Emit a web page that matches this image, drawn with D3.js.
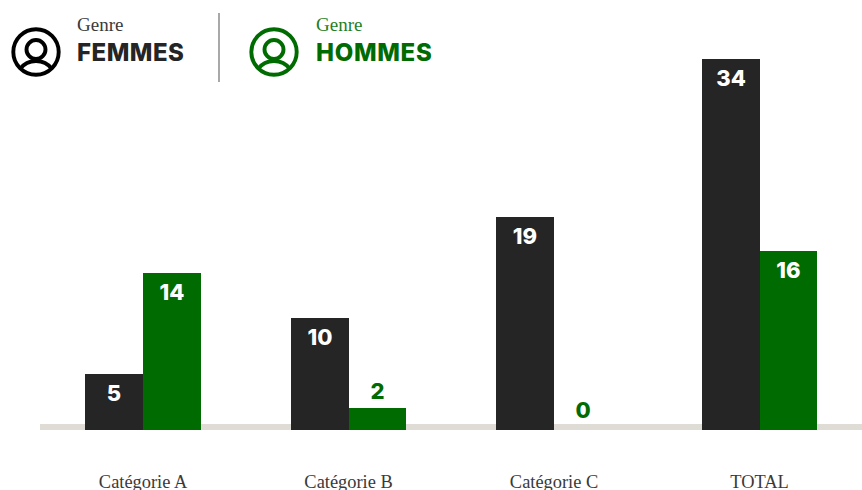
<!DOCTYPE html>
<html><head><meta charset="utf-8">
<script src="https://cdn.jsdelivr.net/npm/d3@7"></script>
<style>html,body{margin:0;padding:0;background:#fff;overflow:hidden}svg{display:block}</style>
</head><body><div id="c"></div>
<script>
const categories = ["Catégorie A","Catégorie B","Catégorie C","TOTAL"];
const femmes = [5,10,19,34];
const hommes = [14,2,0,16];
const seriesNames = ["FEMMES","HOMMES"];
const legendCaption = "Genre";
const W=862,H=490;
const DARK="#252525",GREEN="#006b00",LEG_DARK="#000000";
const SERIF="'Liberation Serif',serif",SANS="Inter,'Open Sans',sans-serif";
const svg=d3.select("#c").append("svg").attr("width",W).attr("height",H);
const x=d3.scaleBand().domain(categories).range([40,862]).paddingInner(.44).paddingOuter(.22);
const x1=d3.scaleBand().domain(seriesNames).range([0,x.bandwidth()]);
const y=d3.scaleLinear().domain([0,19,34]).range([430,217,59]);

svg.append("rect").attr("x",40).attr("y",424).attr("width",822).attr("height",6).attr("fill","#dfdcd6");

const edge=v=>Math.round(v+.28);
const series=[{name:seriesNames[0],vals:femmes,c:DARK},{name:seriesNames[1],vals:hommes,c:GREEN}];
series.forEach(s=>{
  const g=svg.append("g");
  const rows=categories.map((c,i)=>({c,v:s.vals[i]}));
  const left=d=>edge(x(d.c)+x1(s.name)), right=d=>edge(x(d.c)+x1(s.name)+x1.bandwidth());
  const top=d=>Math.round(y(d.v)), inside=d=>y(0)-y(d.v)>30;
  g.selectAll("rect").data(rows).join("rect")
    .attr("x",left).attr("width",d=>right(d)-left(d))
    .attr("y",top).attr("height",d=>y(0)-top(d)).attr("fill",s.c);
  g.selectAll("text").data(rows).join("text")
    .attr("x",d=>(left(d)+right(d))/2)
    .attr("y",d=>inside(d)?y(d.v)+27:(d.v===0?y(d.v)-12:y(d.v)-9))
    .attr("text-anchor","middle").attr("font-family",SANS).attr("font-weight",800).attr("font-size",22)
    .attr("fill",d=>inside(d)?"#fff":GREEN).text(d=>d.v);
});

svg.append("g").selectAll("text").data(categories).join("text")
  .attr("x",d=>x(d)+x.bandwidth()/2+.3).attr("y",488).attr("text-anchor","middle")
  .attr("font-family",SERIF).attr("font-size",18.4).attr("fill","#3a3a3a").text(d=>d);

svg.append("line").attr("x1",219).attr("x2",219).attr("y1",13).attr("y2",82).attr("stroke","#6f6f6f").attr("stroke-width",1.2);

function legend(cx,tx,col,txtCol,capCol,name,ls){
  const g=svg.append("g");
  const sw=3.9;
  g.append("circle").attr("cx",cx).attr("cy",52).attr("r",22.7).attr("fill","none").attr("stroke",col).attr("stroke-width",sw);
  g.append("circle").attr("cx",cx).attr("cy",49.5).attr("r",9.5).attr("fill","none").attr("stroke",col).attr("stroke-width",sw);
  const p=d3.path();p.moveTo(cx-16,69);p.quadraticCurveTo(cx-10,61,cx,61);p.quadraticCurveTo(cx+10,61,cx+16,69);
  g.append("path").attr("d",p.toString()).attr("fill","none").attr("stroke",col).attr("stroke-width",sw);
  g.append("text").attr("x",tx).attr("y",31).attr("font-family",SERIF).attr("font-size",19).attr("fill",capCol).text(legendCaption);
  g.append("text").attr("x",tx).attr("y",61).attr("font-family",SANS).attr("font-weight",800).attr("font-size",24).attr("letter-spacing",ls).attr("fill",txtCol).text(name);
}
legend(36,77,LEG_DARK,"#252525","#3a3a3a",seriesNames[0],.5);
legend(274,316,GREEN,GREEN,"#1f7f1f",seriesNames[1],.7);
</script></body></html>
